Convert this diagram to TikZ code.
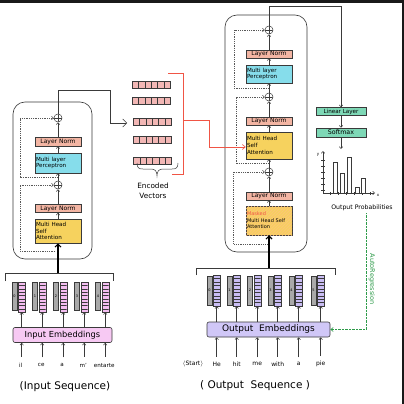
\documentclass[tikz,border=0pt]{standalone}
\usepackage{fontspec}
\setmainfont{DejaVu Sans}
\usetikzlibrary{arrows.meta,patterns,calc}
\definecolor{lnc}{HTML}{F3B5A3}
\definecolor{mlpc}{HTML}{86DDEB}
\definecolor{mhac}{HTML}{F6D25E}
\definecolor{linc}{HTML}{7ED8B6}
\definecolor{evc}{HTML}{F2B7B5}
\definecolor{inc}{HTML}{F7C9F3}
\definecolor{inbar}{HTML}{F3BDF0}
\definecolor{outc}{HTML}{D0C7F7}
\definecolor{outbar}{HTML}{C9BDF3}
\definecolor{grayc}{HTML}{A9A9A9}
\definecolor{redc}{HTML}{F05545}
\definecolor{greenc}{HTML}{2E9B4A}
\definecolor{linec}{HTML}{3A3A3A}
\tikzset{
  ln/.style={draw=linec, line width=0.5pt},
  arr/.style={ln, -{Straight Barb[length=2pt,width=3.5pt]}},
  thickarr/.style={draw=black, line width=1.1pt, -{Straight Barb[length=3pt,width=6pt]}},
  skip/.style={draw=linec!85, line width=0.5pt, dash pattern=on 1pt off 0.8pt, -{Straight Barb[length=2pt,width=3.5pt]}},
  bx/.style={draw=linec, line width=0.5pt, inner sep=1pt, text width=44pt, minimum width=46pt, align=left, font=\fontsize{5.6}{6.6}\selectfont},
  lnbox/.style={bx, fill=lnc, minimum height=8pt, align=center, font=\fontsize{6}{6.6}\selectfont},
  mlpbox/.style={bx, fill=mlpc, minimum height=19pt},
  mhabox/.style={bx, fill=mhac, minimum height=25pt},
  plusn/.style={circle, draw=linec, line width=0.5pt, minimum size=8pt, inner sep=0pt, fill=white,
    path picture={\draw[linec, line width=0.5pt] (path picture bounding box.north) -- (path picture bounding box.south)
      (path picture bounding box.west) -- (path picture bounding box.east);}},
  bigbox/.style={draw=linec, line width=0.6pt, rounded corners=12pt, inner sep=0pt},
  grayb/.style={draw=linec, fill=grayc, line width=0.4pt, minimum width=5pt, inner sep=0pt, font=\fontsize{3.5}{4}\selectfont},
  stripes/.style={path picture={\foreach \k in {1,...,8}{\draw[linec, line width=0.3pt]
      ($(path picture bounding box.north west)!\k/9!(path picture bounding box.south west)$) -- ++(10,0);}}},
  inb/.style={draw=linec, fill=inbar, line width=0.4pt, minimum width=7pt, minimum height=30pt, inner sep=0pt, stripes},
  outb/.style={draw=linec, fill=outbar, line width=0.4pt, minimum width=7pt, minimum height=31pt, inner sep=0pt, stripes},
  evec/.style={draw=linec, fill=evc, line width=0.4pt, minimum width=38pt, minimum height=7pt, inner sep=0pt,
    path picture={\foreach \k in {1,...,5}{\draw[linec, line width=0.3pt]
      ($(path picture bounding box.north west)!\k/6!(path picture bounding box.north east)$) -- ++(0,10);}}},
  embbox/.style={draw=linec, line width=0.6pt, rounded corners=2pt, minimum height=15pt, inner sep=0pt},
  word/.style={font=\fontsize{5.6}{6}\selectfont, inner sep=0pt},
  seq/.style={font=\fontsize{10.5}{12}\selectfont, inner sep=0pt},
  linbox/.style={draw=linec, fill=linc, line width=0.5pt, minimum width=50pt, inner sep=0pt, font=\fontsize{5.6}{6}\selectfont},
}
\begin{document}
\begin{tikzpicture}[x=1pt,y=-1pt]
\useasboundingbox (0,0) rectangle (404,404);
\fill[white] (0,0) rectangle (404,404);
\fill[black!90] (0,0) rectangle (404,3);
\fill[black!90] (401.5,0) rectangle (404,404);

% ---------------- Encoder ----------------
\node (encbox) [bigbox, minimum width=79pt, minimum height=157pt] at (52.5,180.5) {};
\node (eplus1) [plusn] at (58,118) {};
\node (eln1) [lnbox, minimum height=9pt] at (58,141.5) {Layer Norm};
\node (emlp) [mlpbox, minimum height=20pt] at (58,163) {Multi layer\\Perceptron};
\node (eplus2) [plusn] at (58,185) {};
\node (eln2) [lnbox] at (58,208.5) {Layer Norm};
\node (emha) [mhabox, minimum height=24pt] at (58,231) {Multi Head\\Self\\Attention};

\draw[arr] (emha.north) -- (eln2.south);
\draw[arr] (eln2.north) -- (eplus2.south);
\draw[arr] (eplus2.north) -- (emlp.south);
\draw[arr] (emlp.north) -- (eln1.south);
\draw[arr] (eln1.north) -- (eplus1.south);
\draw[skip] ($(eplus2.north)!0.5!(emlp.south)$) -- ++(-38,0) |- (eplus1.west);
\draw[skip] ($(emha.south)!0.5!(encbox.south)$) -- ++(-35,0) |- (eplus2.west);

\coordinate (encout) at (127,123);
\draw[ln, -{Straight Barb[length=4pt,width=8pt]}] (eplus1.north) |- (110,90) -- (110,123) -- (encout);

% encoder input
\coordinate (ebr) at (58,273);
\draw[ln, line width=0.6pt] (5,281) -- (5,273) -- (113,273) -- (113,281);
\draw[thickarr] (ebr) -- (emha.south);
\node (inemb) [embbox, fill=inc, minimum width=99pt, font=\fontsize{8.3}{9}\selectfont] at (62.5,335) {Input Embeddings};
\foreach \i/\x/\w in {0/14.5/il, 1/35/ce, 2/56/a, 3/77/m', 4/98/entarte}{
  \node (ig\i) [grayb, minimum height=28pt] at (\x,296) {\i};
  \node (ib\i) [inb] at ($(ig\i.east)+(4.5,1)$) {};
  \draw[arr] (inemb.north -| ib\i.south) -- (ib\i.south);
  \node (iw\i) [word] at ($(ib\i.south)+(-1,53)$) {\w};
  \draw[arr] (iw\i.north -| ib\i.south) ++(0,-6) -- (inemb.south -| ib\i.south);
}
\node (inseq) [seq] at (65,387) {(Input Sequence)};

% ---------------- Encoded vectors ----------------
\foreach \i/\y/\dx in {1/84.5/0, 2/100.5/0, 3/121.5/1, 4/140/1, 5/160.5/1.5}{
  \node (ev\i) [evec] at (151+\dx,\y) {};
}
\draw[ln] (137,163) .. controls (137,168) and (139,169) .. (143,169) -- (151,169)
  .. controls (155,169) and (157,171) .. (157,176) .. controls (157,171) and (159,169) .. (163,169)
  -- (172,169) .. controls (176,169) and (178,168) .. (178,163);
\node (enctxt) [font=\fontsize{7.3}{10}\selectfont, align=center, inner sep=0pt] at (153,191) {Encoded\\Vectors};
\draw[redc, line width=0.6pt] (168,73) -- (183,73) -- (183,174) -- (172,174);

% ---------------- Decoder ----------------
\node (decbox) [bigbox, minimum width=82pt, minimum height=237pt] at (266,133.5) {};
\node (dplus1) [plusn] at (269,30) {};
\node (dln1) [lnbox] at (269,54) {Layer Norm};
\node (dmlp) [mlpbox, minimum height=18pt] at (269,74) {Multi layer\\Perceptron};
\node (dplus2) [plusn] at (269,97) {};
\node (dln2) [lnbox] at (269,121) {Layer Norm};
\node (dmha) [mhabox, minimum height=27pt] at (269,145.5) {Multi Head\\Self\\Attention};
\node (dplus3) [plusn] at (269,172) {};
\node (dln3) [lnbox] at (269,196) {Layer Norm};
\node (dmmha) [mhabox, minimum height=29pt, font=\fontsize{5}{6.6}\selectfont, postaction={pattern=north east lines, pattern color=orange!50}] at (269,220.5)
  {\textcolor{redc}{Masked}\\Multi Head Self\\Attention};

\draw[arr] (dmmha.north) -- (dln3.south);
\draw[arr] (dln3.north) -- (dplus3.south);
\draw[arr] (dplus3.north) -- (dmha.south);
\draw[arr] (dmha.north) -- (dln2.south);
\draw[arr] (dln2.north) -- (dplus2.south);
\draw[arr] (dplus2.north) -- (dmlp.south);
\draw[arr] (dmlp.north) -- (dln1.south);
\draw[arr] (dln1.north) -- (dplus1.south);
\draw[skip] ($(dplus2.north)!0.5!(dmlp.south)$) -- ++(-35,0) |- (dplus1.west);
\draw[skip] ($(dplus3.north)!0.5!(dmha.south)$) -- ++(-33,0) |- (dplus2.west);
\draw[skip] ($(dmmha.south)!0.5!(decbox.south)$) -- ++(-34,0) |- (dplus3.west);

% red cross-attention input
\draw[redc, line width=0.6pt, -{Straight Barb[length=3pt,width=5pt]}] (183,120) -- (209,120) -- (209,147) -- ($(dmha.west)+(0,1.5)$);

% decoder input
\coordinate (dbr) at (269,268);
\draw[ln, line width=0.6pt] (196,275) -- (196,268) -- (335,268) -- (335,275);
\draw[thickarr] (dbr) -- (dmmha.south);
\node (outemb) [embbox, fill=outc, minimum width=123pt, font=\fontsize{9}{10}\selectfont] at (268.5,329.5) {Output\ \ Embeddings};
\foreach \i/\x/\w in {0/209.5/He, 1/229.5/hit, 2/250/me, 3/270.5/with, 4/291.5/a, 5/313.5/pie}{
  \node (og\i) [grayb, minimum height=29pt] at (\x,290.5) {\i};
  \node (ob\i) [outb] at ($(og\i.east)+(4.5,0)$) {};
  \draw[arr] (outemb.north -| ob\i.south) -- (ob\i.south);
  \node (ow\i) [word, font=\fontsize{6}{6}\selectfont] at ($(ob\i.south)+(0,58)$) {\w};
  \draw[arr] (ow\i.north -| ob\i.south) ++(0,-5) -- (outemb.south -| ob\i.south);
}
\node (owstart) [word, font=\fontsize{6}{6}\selectfont] at (193,364) {$\langle$Start$\rangle$};
\node (outseq) [seq] at (255,386) {( Output\ \ Sequence )};

% ---------------- Output head ----------------
\node (linear) [linbox, minimum height=8pt] at (341,111.5) {Linear Layer};
\node (softmax) [linbox, minimum height=9pt, font=\fontsize{6.3}{7}\selectfont] at (341,132.5) {Softmax};
\coordinate (topR) at (341,6);
\draw[arr] (dplus1.north) |- (topR) -- (linear.north);
\draw[arr] (linear.south) -- (softmax.north);
\coordinate (chtop) at (341,149);
\draw[arr] (softmax.south) -- (chtop);

% chart
\coordinate (org) at (323,193);
\draw[ln, -{Straight Barb[length=2pt,width=3.5pt]}] (org) -- (323,151);
\draw[ln, -{Straight Barb[length=2pt,width=3.5pt]}] (org) -- (375,193);
\foreach \t in {160,166,172,178,184,190}{\draw[ln, line width=0.35pt] (321,\t) -- (324.5,\t);}
\foreach \t in {330,338,346,354,362,370}{\draw[ln, line width=0.35pt] (\t,192) -- (\t,195);}
\foreach \a/\b/\h in {333/337.5/162, 340/344.5/173, 347/351.5/157, 355/359/187, 361/365/178}{
  \draw[ln, fill=white] (\a,193) rectangle (\b,\h);
}
\node (ylab) [font=\fontsize{4}{4}\selectfont, inner sep=0pt] at (318,155) {y};
\node (xlab) [font=\fontsize{4}{4}\selectfont, inner sep=0pt] at (378,195) {x};
\node (outprob) [font=\fontsize{6.2}{7}\selectfont, inner sep=0pt] at (362,208) {Output Probabilities};

% autoregression
\draw[greenc, line width=0.6pt, dash pattern=on 0.6pt off 0.8pt, -{Straight Barb[length=2.5pt,width=4pt]}] (outprob.south -| 366,0) ++(0,2) -- (366,329.5) -- (outemb.east);
\node (autoreg) [greenc, rotate=-90, font=\fontsize{6.5}{7}\selectfont, inner sep=0pt] at (372,279) {AutoRegression};
\end{tikzpicture}
\end{document}
